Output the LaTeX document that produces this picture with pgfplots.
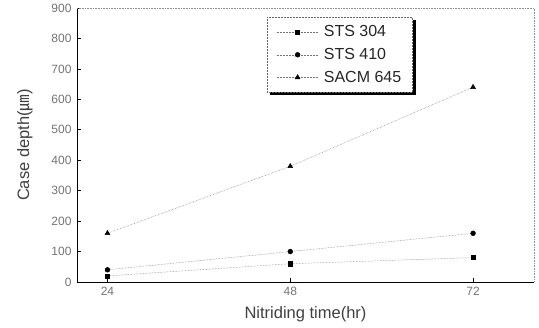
\documentclass[border=0pt]{standalone}
\usepackage{pgfplots}
\pgfplotsset{compat=1.18}
\usepackage{fontspec}
\setmainfont{Liberation Sans}
\newfontfamily\cjk{Noto Sans CJK KR}
\begin{document}
\begin{tikzpicture}[x=1pt,y=1pt]
\begin{axis}[
  scale only axis,
  width=457pt, height=274pt,
  xmin=20, xmax=80, ymin=0, ymax=900,
  xtick={24,48,72}, ytick={0,100,...,900},
  axis line style={draw=none},
  tick style={black, line width=0.6pt},
  major tick length=4pt,
  tick align=inside,
  xtick pos=bottom, ytick pos=left,
  ticklabel style={font=\fontsize{12}{14}\selectfont, text=black!55},
  yticklabel style={xshift=-2pt},
  xticklabel style={yshift=-2pt},
  /pgf/number format/assume math mode=true,
  xlabel={Nitriding time(hr)},
  ylabel={Case depth({\cjk\itshape ㎛})},
  label style={font=\fontsize{16.5}{19}\selectfont, text=black!75},
  xlabel style={yshift=-4pt},
  ylabel style={yshift=12pt},
  legend style={at={(0.416,0.967)}, anchor=north west,
    draw=black!60, densely dotted, line width=0.5pt,
    fill=white,
    font=\fontsize{16}{18}\selectfont,
    inner xsep=9pt, inner ysep=6.5pt,
    row sep=6pt,
    legend cell align=left,
    nodes={text=black!85}},
  legend image code/.code={
    \draw[mark repeat=2, mark phase=2, #1] plot coordinates {(0pt,0pt) (21pt,0pt) (41pt,0pt)};
    \path (45pt,0pt);
  },
  every axis plot/.append style={draw=black!55, densely dotted, line width=0.5pt,
    mark options={solid, fill=black, draw=black}, mark size=2.4pt},
  clip=false,
]
\addplot[mark=square*, mark size=2.1pt] coordinates {(24,20) (48,60) (72,80)};
\addplot[mark=*] coordinates {(24,40) (48,100) (72,160)};
\addplot[mark=triangle*, mark size=2.8pt] coordinates {(24,160) (48,380) (72,640)};
\legend{STS 304, STS 410, SACM 645}
\draw[black, line width=0.8pt] (rel axis cs:0,1) -- (rel axis cs:0,0) -- (rel axis cs:1,0);
\draw[black!45, densely dotted, line width=0.6pt] (rel axis cs:0,1) -- (rel axis cs:1,1) -- (rel axis cs:1,0);
\fill[black] ([shift={(0pt,-3pt)}]rel axis cs:0.7352,0.967) rectangle ([shift={(3pt,-3pt)}]rel axis cs:0.7352,0.6934);
\fill[black] ([shift={(3pt,0pt)}]rel axis cs:0.416,0.6934) rectangle ([shift={(3pt,-3pt)}]rel axis cs:0.7352,0.6934);
\end{axis}
\pgfresetboundingbox
\path ([shift={(-77pt,-46pt)}]current axis.south west) rectangle ([shift={(5pt,8pt)}]current axis.north east);
\end{tikzpicture}
\end{document}
